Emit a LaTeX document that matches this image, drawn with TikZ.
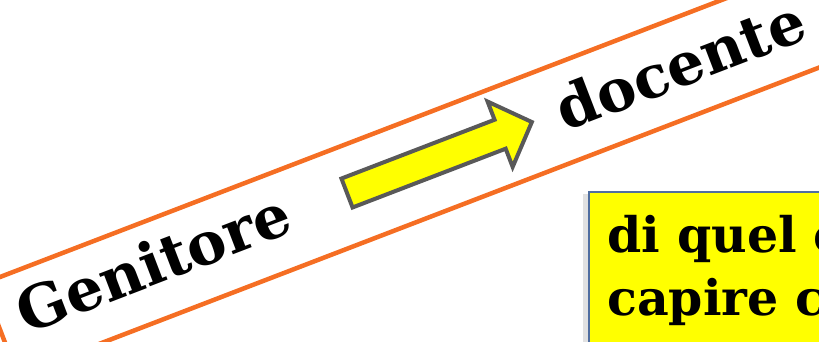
\documentclass[tikz,border=0pt]{standalone}
\usepackage{fontspec}
\setmainfont{DejaVu Serif}
\usetikzlibrary{positioning}
\definecolor{bandorange}{RGB}{245,110,35}
\definecolor{arrowgray}{RGB}{89,89,89}
\definecolor{boxblue}{RGB}{80,110,160}
\definecolor{shadowgray}{RGB}{225,225,225}
\definecolor{brightyellow}{RGB}{255,255,0}
\begin{document}
\begin{tikzpicture}[x=1pt,y=1pt,
  bandbox/.style={draw=bandorange, line width=4.5, minimum width=1000, minimum height=98, inner sep=0pt, outer sep=0pt},
  bigtext/.style={font=\fontsize{59}{61}\selectfont\bfseries, inner sep=0pt},
  boxtext/.style={font=\fontsize{49}{52}\selectfont\bfseries, inner sep=0pt},
  arrowshape/.style={fill=brightyellow, draw=arrowgray, line width=4, line join=miter},
  notebox/.style={draw=boxblue, fill=brightyellow, line width=1.5, minimum width=260, minimum height=170, inner sep=0pt}]
\useasboundingbox (0,0) rectangle (819,341);
\clip (0,0) rectangle (819,341);
% band
\node[bandbox, rotate=21, anchor=west] (band) at (0,11.5) {};
\node[bigtext, rotate=21, anchor=base] (genitore) at (161,58) {Genitore};
\node[bigtext, rotate=21, anchor=base] (docente) at (688,256) {docente};
% block arrow
\begin{scope}[shift={(347,148)}, rotate=21]
  \coordinate (arrowtail) at (0,0);
  \coordinate (arrowtip) at (198,0);
  \draw[arrowshape] (0,-15.5) -- (164,-15.5) -- (164,-35) -- (arrowtip) -- (164,35) -- (164,15.5) -- (0,15.5) -- cycle;
\end{scope}
% yellow box
\fill[shadowgray] (583,-5) rectangle (830,147);
\node[notebox, anchor=north west] (box) at (588,150) {};
\node[boxtext, anchor=base west] (line1) at (607,89) {di quel c};
\node[boxtext, anchor=base west] (line2) at (607,26) {capire c};
\end{tikzpicture}
\end{document}
